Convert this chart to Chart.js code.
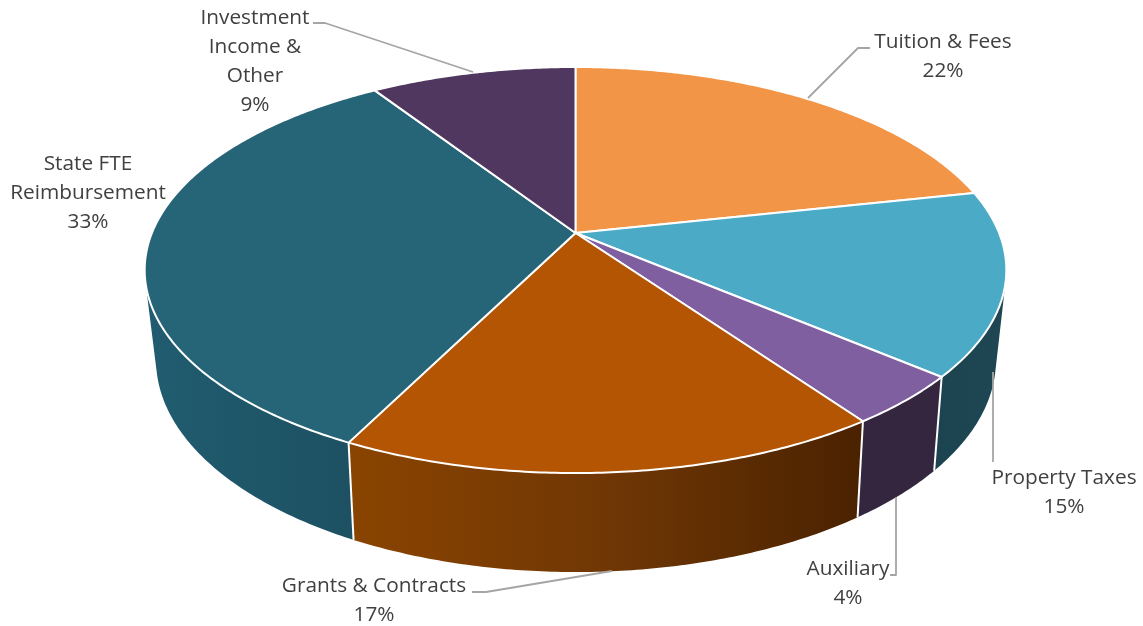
<!DOCTYPE html>
<html>
<head>
<meta charset="utf-8">
<style>html,body{margin:0;padding:0;background:#fff}#wrap{width:1143px;height:626px}</style>
<script src="https://cdn.jsdelivr.net/npm/chart.js@4/dist/chart.umd.js"></script>
</head>
<body>
<div id="wrap"><canvas id="c" width="1143" height="626"></canvas></div>
<script>
const categories = ['Tuition & Fees','Property Taxes','Auxiliary','Grants & Contracts','State FTE Reimbursement','Investment Income & Other'];
const shareValues = [21.6,14.6,4.0,17.2,33.4,9.2];
const percentLabels = ['22%','15%','4%','17%','33%','9%'];
const wrappedNames = [['Tuition & Fees'],['Property Taxes'],['Auxiliary'],['Grants & Contracts'],['State FTE','Reimbursement'],['Investment','Income &','Other']];
const faceColors = ['#F39547','#4BABC6','#7F5F9F','#B45504','#266477','#503760'];
const wallStops = [
  ['#a85f20','#8a4c18'],
  ['#1b4450','#1f4753'],
  ['#35263f','#35263f'],
  ['#8a4400','#703705','#4a2200'],
  ['#215c70','#1c4f60'],
  ['#3a2846','#3a2846']
];
// Layout of the labels and their leader lines (centre x, first-line y, leader path)
const labelLayout = [
  {x:943,y:42,leader:[[808,98],[858,48],[870,48]]},
  {x:1064,y:478,leader:[[993,372],[993,462]]},
  {x:848,y:569,leader:[[896,497],[896,575],[890,575]]},
  {x:374,y:586,leader:[[612,571],[486,592],[472,592]]},
  {x:88,y:164,leader:null},
  {x:255,y:18,leader:[[473,72],[325,23],[313,23]]}
];
// Perspective of the top and bottom discs
const T = {cx:575.5,cy:233,a:423.6,b:196.3,k:0.1823};
const B = {cx:576,cy:320,a:412.4,b:204.5,k:0.1887};
const project = (D,t) => {const u=Math.cos(t),v=Math.sin(t),w=1-D.k*v;return [D.cx+D.a*u/w,D.cy+D.b*v/w];};
const topPt = t => project(T,t);
const botPt = t => project(B,t);
const STEP = 0.01;
function arcPts(fn,s,e){const n=Math.max(2,Math.ceil((e-s)/STEP));const r=[];for(let i=0;i<=n;i++)r.push(fn(s+(e-s)*i/n));return r;}
function trace(ctx,pts,move){pts.forEach((p,i)=>{(i===0&&move)?ctx.moveTo(p[0],p[1]):ctx.lineTo(p[0],p[1]);});}
function signedArea(q){let s=0;q.forEach((p,i)=>{const n=q[(i+1)%q.length];s+=p[0]*n[1]-n[0]*p[1];});return s;}

const pie3d = {
  id:'pie3d',
  beforeDatasetDraw(chart,args){
    const ctx = chart.ctx, arcs = chart.getDatasetMeta(args.index).data;
    arcs.forEach((arc,i)=>{
      const top=arcPts(topPt,arc.startAngle,arc.endAngle), bot=arcPts(botPt,arc.startAngle,arc.endAngle);
      const xs=top.concat(bot).map(p=>p[0]);
      const g=ctx.createLinearGradient(Math.min(...xs),0,Math.max(...xs),0);
      wallStops[i].forEach((c,j,l)=>g.addColorStop(j/(l.length-1),c));
      ctx.fillStyle=g;
      ctx.beginPath();
      for(let q=0;q<top.length-1;q++){
        let quad=[top[q],top[q+1],bot[q+1],bot[q]];
        if(signedArea(quad)<0)quad=quad.reverse();
        trace(ctx,quad,true);ctx.closePath();
      }
      ctx.fill();
    });
    ctx.strokeStyle='#fff';ctx.lineWidth=2;
    arcs.forEach(arc=>{
      const t=arc.endAngle,m=((t%(2*Math.PI))+2*Math.PI)%(2*Math.PI);
      if(m>0.3&&m<Math.PI-0.3){const a=topPt(t),b=botPt(t);ctx.beginPath();ctx.moveTo(a[0],a[1]);ctx.lineTo(b[0],b[1]);ctx.stroke();}
    });
    arcs.forEach(arc=>{
      ctx.beginPath();ctx.moveTo(T.cx,T.cy);trace(ctx,arcPts(topPt,arc.startAngle,arc.endAngle),false);ctx.closePath();
      ctx.fillStyle=arc.options.backgroundColor;ctx.fill();
      ctx.strokeStyle=arc.options.borderColor;ctx.lineWidth=arc.options.borderWidth;ctx.lineJoin='round';ctx.stroke();
    });
    return false;
  },
  afterDatasetsDraw(chart){
    const ctx=chart.ctx;
    ctx.strokeStyle='#A5A5A5';ctx.lineWidth=1.8;
    labelLayout.forEach(l=>{if(!l.leader)return;ctx.beginPath();trace(ctx,l.leader,true);ctx.stroke();});
    ctx.fillStyle='#404040';ctx.font='20.8px "Open Sans", sans-serif';ctx.textAlign='center';ctx.textBaseline='middle';
    labelLayout.forEach((l,i)=>{
      wrappedNames[i].concat(percentLabels[i]).forEach((s,j)=>ctx.fillText(s,l.x,l.y+29*j));
    });
  }
};

new Chart(document.getElementById('c'),{
  type:'pie',
  data:{labels:categories,datasets:[{data:shareValues,backgroundColor:faceColors,borderColor:'#ffffff',borderWidth:2}]},
  options:{responsive:false,animation:false,plugins:{legend:{display:false},tooltip:{enabled:false}}},
  plugins:[pie3d]
});
</script>
</body>
</html>
